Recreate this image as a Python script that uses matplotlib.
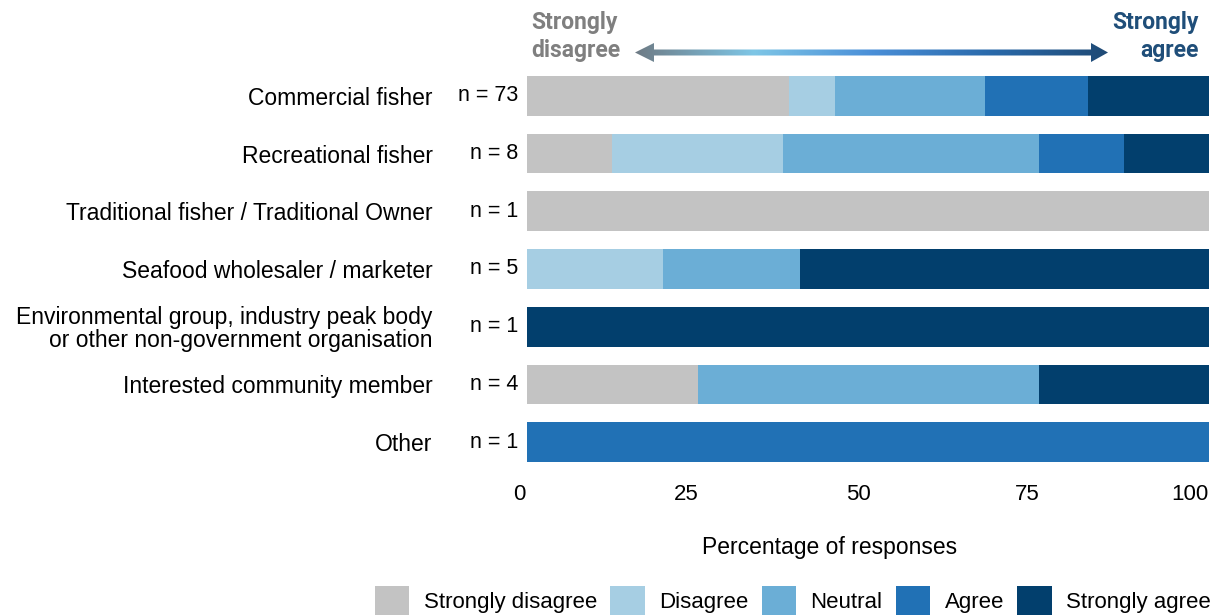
import numpy as np
import matplotlib
matplotlib.use("Agg")
import matplotlib.pyplot as plt
import matplotlib.transforms as mtrans
from matplotlib.colors import LinearSegmentedColormap
from matplotlib.patches import Polygon, Patch

plt.rcParams['font.family'] = ['Liberation Sans', 'DejaVu Sans']

# respondent groups, top to bottom
groups = ["Commercial fisher", "Recreational fisher",
          "Traditional fisher / Traditional Owner",
          "Seafood wholesaler / marketer",
          "Environmental group, industry peak body\nor other non-government organisation",
          "Interested community member", "Other"]
n_resp = [73, 8, 1, 5, 1, 4, 1]

levels = ["Strongly disagree", "Disagree", "Neutral", "Agree", "Strongly agree"]
colors = ["#c3c3c3", "#a6cee3", "#6baed6", "#2171b5", "#023f6d"]

# percentage of responses in each level
strongly_disagree = [38.4, 12.5, 100, 0, 0, 25, 0]
disagree = [6.8, 25.0, 0, 20, 0, 0, 0]
neutral = [21.9, 37.5, 0, 20, 0, 50, 0]
agree = [15.1, 12.5, 0, 0, 0, 0, 100]
strongly_agree = [17.8, 12.5, 0, 60, 100, 25, 0]
shares = [strongly_disagree, disagree, neutral, agree, strongly_agree]

x_ticks = [0, 25, 50, 75, 100]

fig = plt.figure(figsize=(12.16, 6.15), dpi=100)
ax = fig.add_axes([527 / 1216, 1 - 471 / 615, 682 / 1216, 404 / 615])

y = np.arange(len(groups))
left = np.zeros(len(groups))
for vals, col, lab in zip(shares, colors, levels):
    ax.barh(y, vals, left=left, height=0.69, color=col, label=lab, linewidth=0)
    left += np.array(vals)

ax.set_xlim(0, 100)
ax.set_ylim(len(groups) - 0.5, -0.5)
ax.set_yticks(y)
ax.set_yticklabels(groups, fontsize=16.5, linespacing=1.0)
ax.set_xticks(x_ticks)
ax.tick_params(axis='y', length=0, pad=68)
ax.tick_params(axis='x', length=0, pad=9, labelsize=16)
for s in ax.spines.values():
    s.set_visible(False)

# nudge the tick labels left so "100" stays inside the figure
for lbl, dx in zip(ax.get_xticklabels(), [-8, -11, -10, -11, -19]):
    lbl.set_transform(lbl.get_transform() +
                      mtrans.ScaledTranslation(dx / 100, 0, fig.dpi_scale_trans))

ax.set_xlabel("Percentage of responses", fontsize=16.5)
ax.xaxis.set_label_coords(0.444, -0.16)

# sample sizes next to bars
for yi, n in zip(y, n_resp):
    ax.text(-0.013, yi, f"n = {n}", transform=ax.get_yaxis_transform(),
            ha='right', va='center', fontsize=15.5)

# header with gradient double arrow, drawn in pixel space
ov = fig.add_axes([0, 0, 1, 1], zorder=5)
ov.set_xlim(0, 1216)
ov.set_ylim(615, 0)
ov.axis('off')
ov.patch.set_alpha(0)

hdr_font = ['Roboto', 'DejaVu Sans']
ov.text(531, 22, "Strongly", ha='left', va='center', fontsize=16.5,
        fontweight='bold', color='#7f7f7f', family=hdr_font)
ov.text(531, 50, "disagree", ha='left', va='center', fontsize=16.5,
        fontweight='bold', color='#7f7f7f', family=hdr_font)
ov.text(1199, 22, "Strongly", ha='right', va='center', fontsize=16.5,
        fontweight='bold', color='#1f4e79', family=hdr_font)
ov.text(1199, 50, "agree", ha='right', va='center', fontsize=16.5,
        fontweight='bold', color='#1f4e79', family=hdr_font)

ay = 52.5
arrow_pts = [(635, ay), (654, ay - 9.5), (654, ay - 3), (1091, ay - 3),
             (1091, ay - 9.5), (1108, ay), (1091, ay + 9.5), (1091, ay + 3),
             (654, ay + 3), (654, ay + 9.5)]
arrow_shape = Polygon(arrow_pts, closed=True, facecolor='none', edgecolor='none')
ov.add_patch(arrow_shape)
grad = LinearSegmentedColormap.from_list(
    "hdr", ["#6e7b85", "#7ec6e6", "#4a8fd8", "#2a6aab", "#1f4a75"])
img = ov.imshow(np.linspace(0, 1, 256)[None, :], cmap=grad, aspect='auto',
                extent=[635, 1108, ay + 10, ay - 10], interpolation='bilinear')
img.set_clip_path(arrow_shape)

handles = [Patch(facecolor=c, edgecolor='none', label=l) for c, l in zip(colors, levels)]
fig.legend(handles=handles, loc='center', bbox_to_anchor=(0.652, 1 - 601 / 615),
           ncol=5, frameon=False, handlelength=1.55, handleheight=1.7,
           handletextpad=0.65, columnspacing=0.6,
           prop={'family': ['Liberation Sans', 'DejaVu Sans'], 'size': 16})

fig.savefig("out.png", dpi=100)
